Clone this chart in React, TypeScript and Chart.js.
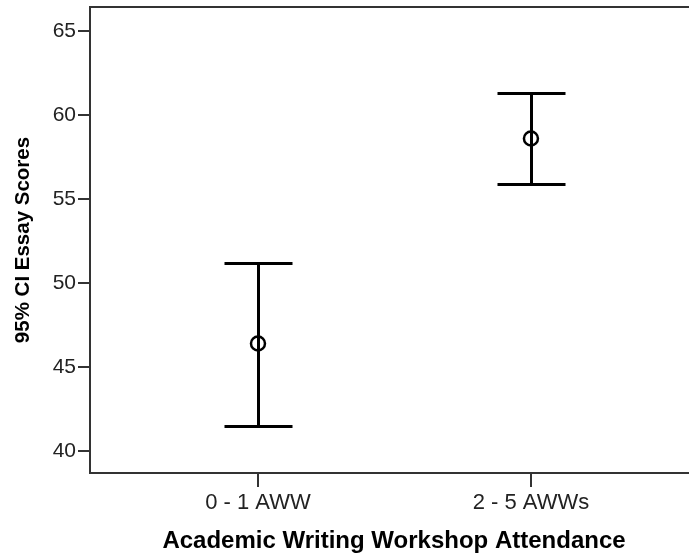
import React, { useEffect, useRef } from 'react';
import { Chart, registerables } from 'chart.js';

Chart.register(...registerables);

const categories = ['0 - 1 AWW', '2 - 5 AWWs'];
const categoryPositions = [1, 2];
const means = [46.4, 58.6];
const lowerCI = [41.5, 55.9];
const upperCI = [51.2, 61.3];
const yTicks = [40, 45, 50, 55, 60, 65];
const yTitle = '95% CI Essay Scores';
const xTitle = 'Academic Writing Workshop Attendance';

const W = 698;
const H = 556;
const FONT = "'Liberation Sans', Arial, Helvetica, sans-serif";
const AXIS_COLOR = '#333333';

const errorBarPlugin = {
  id: 'errorBars',
  beforeDatasetsDraw(chart: any) {
    const { ctx, scales } = chart;
    const x = scales.x;
    const y = scales.y;
    const cap = 34;
    ctx.save();
    ctx.strokeStyle = '#000000';
    ctx.lineWidth = 3;
    ctx.lineCap = 'butt';
    categoryPositions.forEach((pos, i) => {
      const px = Math.round(x.getPixelForValue(pos)) + 0.5;
      const yl = Math.round(y.getPixelForValue(lowerCI[i])) + 0.5;
      const yu = Math.round(y.getPixelForValue(upperCI[i])) + 0.5;
      ctx.beginPath();
      ctx.moveTo(px, yl);
      ctx.lineTo(px, yu);
      ctx.moveTo(px - cap, yl);
      ctx.lineTo(px + cap, yl);
      ctx.moveTo(px - cap, yu);
      ctx.lineTo(px + cap, yu);
      ctx.stroke();
    });
    ctx.restore();
  },
};

const framePlugin = {
  id: 'frame',
  afterDraw(chart: any) {
    const { ctx, chartArea } = chart;
    ctx.save();
    ctx.strokeStyle = AXIS_COLOR;
    ctx.lineWidth = 2;
    ctx.beginPath();
    ctx.moveTo(chartArea.left - 1, chartArea.top);
    ctx.lineTo(chartArea.right, chartArea.top);
    ctx.lineTo(chartArea.right, chartArea.bottom);
    ctx.stroke();
    ctx.restore();
  },
};

export default function App() {
  const canvasRef = useRef<HTMLCanvasElement | null>(null);

  useEffect(() => {
    if (!canvasRef.current) return;
    const chart = new Chart(canvasRef.current, {
      type: 'scatter',
      data: {
        datasets: [
          {
            label: 'Mean',
            data: categoryPositions.map((p, i) => ({ x: p, y: means[i] })),
            pointStyle: 'circle',
            pointRadius: 7,
            pointBorderWidth: 2.5,
            borderColor: '#000000',
            backgroundColor: 'rgba(0,0,0,0)',
            showLine: false,
            clip: false,
          },
        ],
      },
      options: {
        responsive: false,
        animation: false,
        devicePixelRatio: 1,
        layout: { autoPadding: false, padding: { top: 7, left: 0, right: 0, bottom: 0 } },
        plugins: {
          legend: { display: false },
          tooltip: { enabled: false },
        },
        scales: {
          x: {
            type: 'linear',
            position: 'bottom',
            min: 0.3846,
            max: 2.612,
            afterBuildTicks: (scale: any) => {
              scale.ticks = categoryPositions.map((v) => ({ value: v }));
            },
            afterFit: (scale: any) => {
              scale.height = 83;
              scale.paddingLeft = 0;
              scale.paddingRight = 0;
            },
            grid: {
              drawOnChartArea: false,
              drawTicks: true,
              tickLength: 14,
              tickColor: AXIS_COLOR,
              tickWidth: 2,
              color: AXIS_COLOR,
              lineWidth: 2,
            },
            border: { display: true, color: AXIS_COLOR, width: 2 },
            ticks: {
              autoSkip: false,
              maxRotation: 0,
              padding: 3,
              color: '#222222',
              font: { family: FONT, size: 22 },
              callback: (value: any) => {
                const idx = categoryPositions.indexOf(Number(value));
                return idx >= 0 ? categories[idx] : '';
              },
            },
            title: {
              display: true,
              text: xTitle,
              color: '#000000',
              font: { family: FONT, size: 24, weight: 'bold' },
              padding: { top: 0, bottom: 0 },
            },
          },
          y: {
            type: 'linear',
            position: 'left',
            min: 38.69,
            max: 66.43,
            afterBuildTicks: (scale: any) => {
              scale.ticks = yTicks.map((v) => ({ value: v }));
            },
            afterFit: (scale: any) => {
              scale.width = 90;
              scale.paddingTop = 0;
              scale.paddingBottom = 0;
            },
            grid: {
              drawOnChartArea: false,
              drawTicks: true,
              tickLength: 12,
              tickColor: AXIS_COLOR,
              tickWidth: 2,
              color: AXIS_COLOR,
              lineWidth: 2,
            },
            border: { display: true, color: AXIS_COLOR, width: 2 },
            ticks: {
              padding: 2,
              color: '#222222',
              font: { family: FONT, size: 21 },
            },
            title: {
              display: true,
              text: yTitle,
              color: '#000000',
              font: { family: FONT, size: 20.5, weight: 'bold' },
              padding: { top: 11, bottom: 0 },
            },
          },
        },
      } as any,
      plugins: [errorBarPlugin, framePlugin],
    });
    return () => chart.destroy();
  }, []);

  return (
    <div style={{ position: 'fixed', left: 0, top: 0, width: W, height: H, background: '#ffffff' }}>
      <canvas ref={canvasRef} width={W} height={H} style={{ display: 'block', width: W, height: H }} />
    </div>
  );
}
